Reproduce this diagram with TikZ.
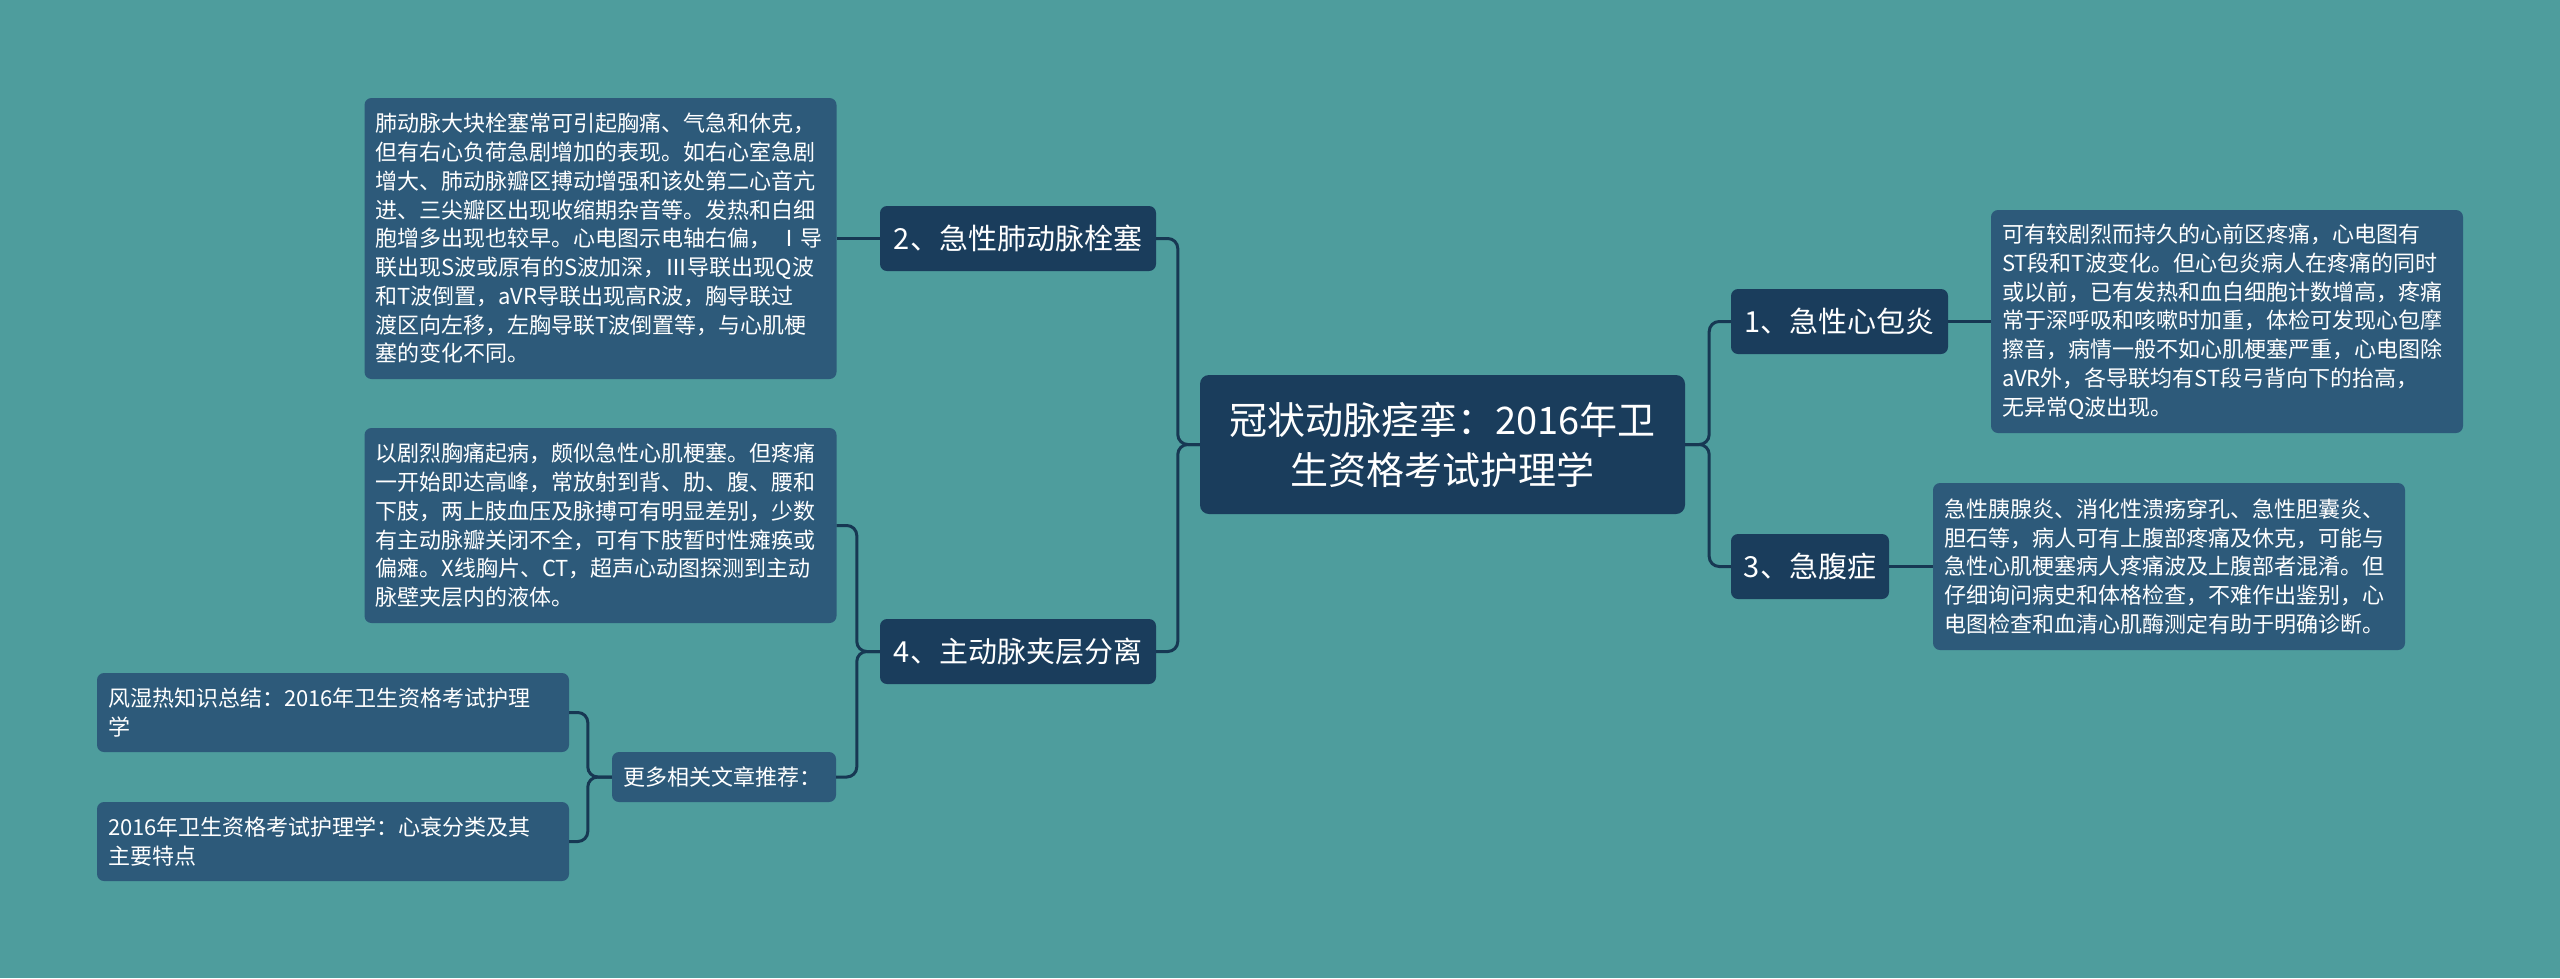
\documentclass[tikz,border=0pt]{standalone}
\usepackage{fontspec}
\newfontfamily\cjk{Noto Sans CJK SC}
\definecolor{bg}{HTML}{4E9D9D}
\definecolor{darkbox}{HTML}{1A3D5C}
\definecolor{leafbox}{HTML}{2D5A7A}
\definecolor{linecol}{HTML}{173853}
\begin{document}
\begin{tikzpicture}[x=1pt,y=-1pt,
 conn/.style={draw=linecol, line width=3pt, rounded corners=10pt},
 rootbox/.style={fill=darkbox, rounded corners=9pt, text=white, align=center, inner sep=0pt, minimum width=485pt, minimum height=139pt, font=\cjk\fontsize{38pt}{50pt}\selectfont},
 branch/.style={fill=darkbox, rounded corners=7pt, text=white, inner sep=0pt, minimum height=65pt, font=\cjk\fontsize{29pt}{35pt}\selectfont},
 leaf/.style={fill=leafbox, rounded corners=7pt, text=white, align=left, inner xsep=11pt, inner ysep=0pt, text width=450pt, font=\cjk\fontsize{22pt}{28.75pt}\selectfont},
]
\fill[bg] (0,0) rectangle (2560,978);
\useasboundingbox (0,0) rectangle (2560,978);

\node[rootbox] (root) at (1442.5,444.5) {冠状动脉痉挛：2016年卫\\生资格考试护理学};
\node[branch, minimum width=276pt] (n2) at (1018,238.5) {2、急性肺动脉栓塞};
\node[branch, minimum width=276pt] (n4) at (1018,651.5) {4、主动脉夹层分离};
\node[branch, minimum width=217pt] (n1) at (1839.5,321.5) {1、急性心包炎};
\node[branch, minimum width=158pt] (n3) at (1810,566.5) {3、急腹症};

\node[leaf, minimum height=281pt] (l2) at (600.5,238.5) {肺动脉大块栓塞常可引起胸痛、气急和休克，\\但有右心负荷急剧增加的表现。如右心室急剧\\增大、肺动脉瓣区搏动增强和该处第二心音亢\\进、三尖瓣区出现收缩期杂音等。发热和白细\\胞增多出现也较早。心电图示电轴右偏， Ⅰ导\\联出现S波或原有的S波加深，Ⅲ导联出现Q波\\和T波倒置，aVR导联出现高R波，胸导联过\\渡区向左移，左胸导联T波倒置等，与心肌梗\\塞的变化不同。};
\node[leaf, minimum height=195pt] (l4) at (600.5,525.5) {以剧烈胸痛起病，颇似急性心肌梗塞。但疼痛\\一开始即达高峰，常放射到背、肋、腹、腰和\\下肢，两上肢血压及脉搏可有明显差别，少数\\有主动脉瓣关闭不全，可有下肢暂时性瘫痪或\\偏瘫。X线胸片、CT，超声心动图探测到主动\\脉壁夹层内的液体。};
\node[leaf, text width=202pt, minimum height=50pt] (more) at (724,777) {更多相关文章推荐：};
\node[leaf, minimum height=79pt] (link1) at (333,712.5) {风湿热知识总结：2016年卫生资格考试护理\\学};
\node[leaf, minimum height=79pt] (link2) at (333,841.5) {2016年卫生资格考试护理学：心衰分类及其\\主要特点};
\node[leaf, minimum height=223pt] (l1) at (2227,321.5) {可有较剧烈而持久的心前区疼痛，心电图有\\ST段和T波变化。但心包炎病人在疼痛的同时\\或以前，已有发热和血白细胞计数增高，疼痛\\常于深呼吸和咳嗽时加重，体检可发现心包摩\\擦音，病情一般不如心肌梗塞严重，心电图除\\aVR外，各导联均有ST段弓背向下的抬高，\\无异常Q波出现。};
\node[leaf, minimum height=167pt] (l3) at (2169,566.5) {急性胰腺炎、消化性溃疡穿孔、急性胆囊炎、\\胆石等，病人可有上腹部疼痛及休克，可能与\\急性心肌梗塞病人疼痛波及上腹部者混淆。但\\仔细询问病史和体格检查，不难作出鉴别，心\\电图检查和血清心肌酶测定有助于明确诊断。};

\draw[conn] (root.west) -- ++(-22,0) |- (n2.east);
\draw[conn] (root.west) -- ++(-22,0) |- (n4.east);
\draw[conn] (root.east) -- ++(24,0) |- (n1.west);
\draw[conn] (root.east) -- ++(24,0) |- (n3.west);
\draw[conn] (n2.west) -- (l2.east);
\draw[conn] (n4.west) -- ++(-23,0) |- (l4.east);
\draw[conn] (n4.west) -- ++(-23,0) |- (more.east);
\draw[conn] (more.west) -- ++(-24,0) |- (link1.east);
\draw[conn] (more.west) -- ++(-24,0) |- (link2.east);
\draw[conn] (n1.east) -- (l1.west);
\draw[conn] (n3.east) -- (l3.west);
\end{tikzpicture}
\end{document}
